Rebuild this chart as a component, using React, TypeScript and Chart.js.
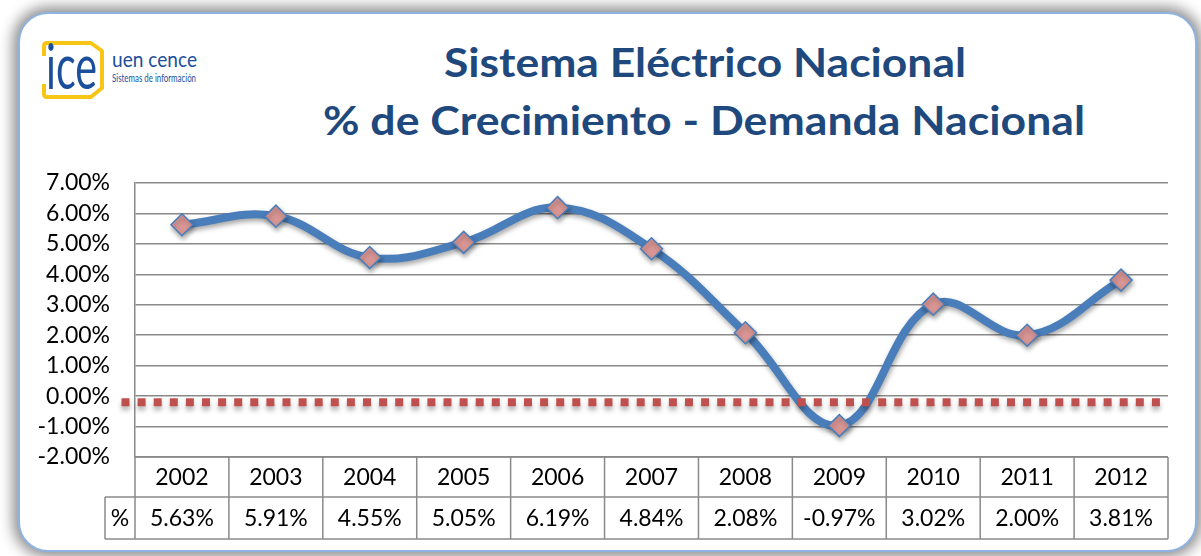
import React, { useEffect, useRef } from 'react';
import { Chart, registerables } from 'chart.js';

Chart.register(...registerables);

// ---- Data ----
const years = ['2002', '2003', '2004', '2005', '2006', '2007', '2008', '2009', '2010', '2011', '2012'];
const growth = [5.63, 5.91, 4.55, 5.05, 6.19, 4.84, 2.08, -0.97, 3.02, 2.0, 3.81];
const tableRowLabel = '%';
const referenceLevel = -0.2;
const yMin = -2;
const yMax = 7;
const yStep = 1;
const titleLines = ['Sistema Eléctrico Nacional', '% de Crecimiento - Demanda Nacional'];

const FONT = 'Lato, "Open Sans", sans-serif';
const GRID = '#8a8a8a';

const fmtPct = (v: number) => v.toFixed(2) + '%';

const effectsPlugin = {
  id: 'effects',
  beforeDatasetsDraw(chart: any) {
    const ctx = chart.ctx;
    ctx.save();
    ctx.shadowColor = 'rgba(0,0,0,0.35)';
    ctx.shadowBlur = 5;
    ctx.shadowOffsetX = 1;
    ctx.shadowOffsetY = 3;
  },
  afterDatasetsDraw(chart: any) {
    const ctx = chart.ctx;
    ctx.restore();
    const a = chart.chartArea;
    const y = chart.scales.y.getPixelForValue(referenceLevel);
    ctx.save();
    ctx.shadowColor = 'rgba(0,0,0,0.3)';
    ctx.shadowBlur = 5;
    ctx.shadowOffsetY = 4;
    ctx.strokeStyle = '#C0504D';
    ctx.lineWidth = 8;
    ctx.setLineDash([8, 8.1]);
    ctx.beginPath();
    ctx.moveTo(a.left - 13.5, y);
    ctx.lineTo(a.right, y);
    ctx.stroke();
    ctx.restore();
  },
};

const tablePlugin = {
  id: 'dataTable',
  afterDraw(chart: any) {
    const { ctx, chartArea: a, scales } = chart;
    const x = scales.x;
    const n = years.length;
    const cw = (a.right - a.left) / n;
    const r1t = a.bottom;
    const r1b = a.bottom + 40;
    const r2b = r1b + 42;
    const legL = a.left - 30;
    ctx.save();
    ctx.strokeStyle = GRID;
    ctx.lineWidth = 1.5;
    ctx.beginPath();
    ctx.moveTo(a.left, r1t);
    ctx.lineTo(a.right, r1t);
    ctx.moveTo(legL, r1b);
    ctx.lineTo(a.right, r1b);
    ctx.moveTo(legL, r2b);
    ctx.lineTo(a.right, r2b);
    for (let i = 0; i <= n; i++) {
      const xx = a.left + i * cw;
      ctx.moveTo(xx, r1t);
      ctx.lineTo(xx, r2b);
    }
    ctx.moveTo(legL, r1b);
    ctx.lineTo(legL, r2b);
    ctx.stroke();
    ctx.fillStyle = '#000';
    ctx.font = `23px ${FONT}`;
    ctx.textAlign = 'center';
    ctx.textBaseline = 'alphabetic';
    for (let i = 0; i < n; i++) {
      const cx = x.getPixelForValue(i);
      ctx.fillText(years[i], cx, r1t + 28);
      ctx.fillText(fmtPct(growth[i]), cx, r1b + 29);
    }
    ctx.fillText(tableRowLabel, (legL + a.left) / 2, r1b + 29);
    ctx.restore();
  },
};

function ChartCanvas() {
  const ref = useRef<HTMLCanvasElement>(null);
  useEffect(() => {
    if (!ref.current) return;
    const chart = new Chart(ref.current, {
      type: 'line',
      data: {
        labels: years,
        datasets: [
          {
            data: growth,
            borderColor: '#4A7EBB',
            borderWidth: 8,
            tension: 0.4,
            pointStyle: 'rectRot',
            pointRadius: 11,
            pointBackgroundColor: '#D99694',
            pointBorderColor: '#4A7EBB',
            pointBorderWidth: 1.5,
            fill: false,
          },
        ],
      },
      options: {
        animation: false,
        responsive: false,
        devicePixelRatio: 1,
        layout: { padding: { left: 0, top: 183, right: 33, bottom: 99 } },
        plugins: { legend: { display: false }, tooltip: { enabled: false }, title: { display: false } },
        scales: {
          x: { display: false, offset: true },
          y: {
            min: yMin,
            max: yMax,
            afterFit: (s: any) => {
              s.width = 135;
            },
            ticks: {
              stepSize: yStep,
              autoSkip: false,
              padding: 25,
              color: '#000',
              font: { family: FONT, size: 23 },
              callback: (v: any) => fmtPct(Number(v)),
            },
            grid: { color: GRID, lineWidth: 1.5, drawTicks: false },
            border: { color: GRID, width: 1.5 },
          },
        },
      },
      plugins: [effectsPlugin, tablePlugin],
    } as any);
    return () => chart.destroy();
  }, []);
  return (
    <canvas
      ref={ref}
      width={1201}
      height={556}
      style={{ position: 'absolute', left: 0, top: 0, width: 1201, height: 556 }}
    />
  );
}

export default function App() {
  return (
    <div style={{ position: 'absolute', left: 0, top: 0, width: 1201, height: 556, overflow: 'hidden', background: '#fff' }}>
      <div
        style={{
          position: 'absolute',
          left: 18,
          top: 12,
          width: 1179,
          height: 540,
          boxSizing: 'border-box',
          border: '2px solid #8DB3E2',
          borderRadius: 30,
          background: '#fff',
          boxShadow: '0 0 14px 5px rgba(0,0,0,0.45)',
        }}
      />
      <svg width={1201} height={160} style={{ position: 'absolute', left: 0, top: 0 }}>
        <path
          d="M 44 56 L 44 46 Q 44 43 47 43 L 91 43 L 102 51 L 102 88 L 91 97 L 47 97 Q 44 97 44 94 L 44 84"
          fill="none"
          stroke="#F7C614"
          strokeWidth={4}
          strokeLinejoin="round"
        />
        <text x={46} y={89} fontFamily="Lato, sans-serif" fontSize={62} fill="#1B4F9C" textLength={51} lengthAdjust="spacingAndGlyphs">
          ice
        </text>
        <text x={112} y={67} fontFamily="Lato, sans-serif" fontSize={22} fill="#1B4F9C" textLength={85} lengthAdjust="spacingAndGlyphs">
          uen cence
        </text>
        <text x={112} y={82} fontFamily="Lato, sans-serif" fontSize={10.5} fill="#1B4F9C" textLength={84} lengthAdjust="spacingAndGlyphs">
          Sistemas de información
        </text>
        <text x={705} y={77} textAnchor="middle" fontFamily="Lato, sans-serif" fontWeight="bold" fontSize={40} fill="#1F497D" textLength={522} lengthAdjust="spacingAndGlyphs">
          {titleLines[0]}
        </text>
        <text x={704} y={135} textAnchor="middle" fontFamily="Lato, sans-serif" fontWeight="bold" fontSize={40} fill="#1F497D" textLength={762} lengthAdjust="spacingAndGlyphs">
          {titleLines[1]}
        </text>
      </svg>
      <ChartCanvas />
    </div>
  );
}
